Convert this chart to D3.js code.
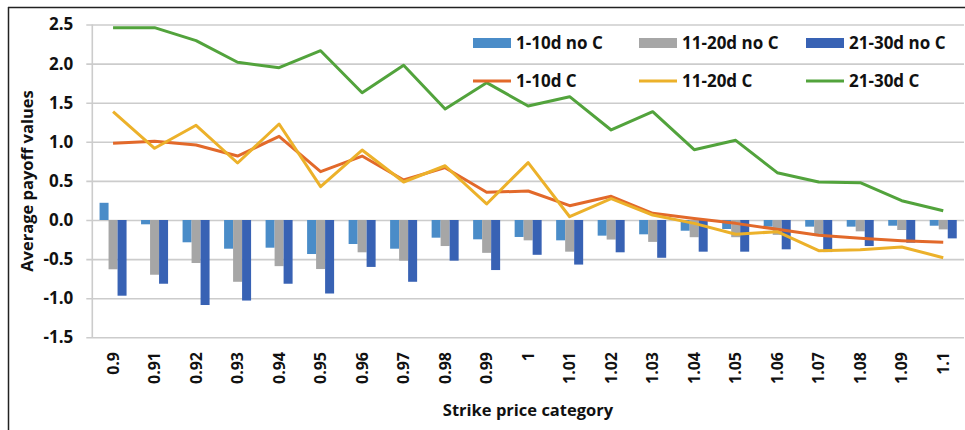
<!DOCTYPE html>
<html>
<head>
<meta charset="utf-8">
<script src="https://cdn.jsdelivr.net/npm/d3@7"></script>
<style>
  body { margin: 0; background: #fff; }
  text { font-family: "Open Sans", sans-serif; font-weight: 700; fill: #111; }
</style>
</head>
<body>
<div id="chart"></div>
<script>
// strike price categories
const categories = ["0.9","0.91","0.92","0.93","0.94","0.95","0.96","0.97","0.98","0.99","1",
  "1.01","1.02","1.03","1.04","1.05","1.06","1.07","1.08","1.09","1.1"];

// bars (no C)
const noC_1_10  = [0.22,-0.055,-0.285,-0.367,-0.354,-0.435,-0.307,-0.367,-0.226,-0.247,-0.217,
  -0.26,-0.2,-0.183,-0.137,-0.115,-0.085,-0.085,-0.085,-0.073,-0.073];
const noC_11_20 = [-0.63,-0.70,-0.55,-0.79,-0.59,-0.627,-0.413,-0.52,-0.333,-0.42,-0.26,
  -0.405,-0.25,-0.28,-0.22,-0.22,-0.19,-0.2,-0.145,-0.128,-0.12];
const noC_21_30 = [-0.968,-0.815,-1.087,-1.03,-0.815,-0.94,-0.6,-0.79,-0.52,-0.64,-0.445,
  -0.57,-0.413,-0.483,-0.405,-0.405,-0.375,-0.41,-0.333,-0.29,-0.235];

// lines (C)
const C_1_10  = [0.98,1.006,0.959,0.818,1.07,0.618,0.818,0.511,0.669,0.354,0.371,
  0.183,0.303,0.085,0.02,-0.043,-0.119,-0.196,-0.234,-0.264,-0.285];
const C_11_20 = [1.385,0.917,1.211,0.729,1.228,0.426,0.895,0.486,0.694,0.205,0.733,
  0.042,0.273,0.064,-0.043,-0.183,-0.149,-0.392,-0.38,-0.345,-0.482];
const C_21_30 = [2.459,2.46,2.293,2.017,1.948,2.165,1.628,1.978,1.419,1.756,1.458,
  1.577,1.151,1.385,0.899,1.019,0.605,0.486,0.477,0.247,0.119];

const yTicks = [-1.5,-1.0,-0.5,0.0,0.5,1.0,1.5,2.0,2.5];

const barSeries = [
  {name: "1-10d no C",  values: noC_1_10,  color: "#4a8cc8"},
  {name: "11-20d no C", values: noC_11_20, color: "#a6a6a6"},
  {name: "21-30d no C", values: noC_21_30, color: "#3862b4"}
];
const lineSeries = [
  {name: "1-10d C",  values: C_1_10,  color: "#e2692a"},
  {name: "11-20d C", values: C_11_20, color: "#ecb12a"},
  {name: "21-30d C", values: C_21_30, color: "#52a33c"}
];

const W = 965, H = 430;
const plotL = 92.3, plotR = 964, plotT = 24.5, plotB = 337.3;

const svg = d3.select("#chart").append("svg")
    .attr("width", W).attr("height", H);

// frame (top and left only)
svg.append("line").attr("x1", 8).attr("x2", W).attr("y1", 7.5).attr("y2", 7.5)
    .attr("stroke", "#222").attr("stroke-width", 1.5);
svg.append("line").attr("x1", 8.5).attr("x2", 8.5).attr("y1", 7).attr("y2", H)
    .attr("stroke", "#222").attr("stroke-width", 1.5);

const x = d3.scaleBand().domain(categories).range([plotL, plotR]);
const bw = x.bandwidth();
const groupW = 27;
const xSub = d3.scaleBand().domain(barSeries.map(d => d.name))
    .range([(bw - groupW) / 2, (bw + groupW) / 2]);
const y = d3.scaleLinear().domain([-1.5, 2.5]).range([plotB, plotT]);

// gridlines + y axis (plain hyphen for negatives, like the original)
const yAxis = d3.axisLeft(y).tickValues(yTicks).tickSize(6)
    .tickFormat(d => d.toFixed(1)).tickPadding(6);
const gy = svg.append("g").attr("transform", `translate(${plotL},0)`).call(yAxis);
gy.select(".domain").remove();
gy.selectAll(".tick line").attr("x1", -6).attr("x2", plotR - plotL)
    .attr("stroke", "#cccccc").attr("stroke-width", 1.6);
gy.selectAll(".tick text").attr("font-size", 17).attr("x", -19).attr("fill", "#111")
    .style("font-family", "'Open Sans', sans-serif").style("font-weight", 700);
svg.append("line").attr("x1", plotL).attr("x2", plotL).attr("y1", plotT).attr("y2", plotB)
    .attr("stroke", "#cccccc").attr("stroke-width", 1.6);

// bars
barSeries.forEach(s => {
  svg.append("g").selectAll("rect")
    .data(s.values.map((v, i) => ({c: categories[i], v})))
    .join("rect")
    .attr("x", d => x(d.c) + xSub(s.name))
    .attr("width", xSub.bandwidth())
    .attr("y", d => y(Math.max(0, d.v)))
    .attr("height", d => Math.abs(y(d.v) - y(0)))
    .attr("fill", s.color);
});

// lines
const line = d3.line()
    .x((d, i) => x(categories[i]) + bw / 2)
    .y(d => y(d));
lineSeries.forEach(s => {
  svg.append("path").datum(s.values)
    .attr("d", line)
    .attr("fill", "none")
    .attr("stroke", s.color)
    .attr("stroke-width", 3)
    .attr("stroke-linejoin", "round");
});

// x tick labels (rotated)
svg.append("g").selectAll("text")
  .data(categories).join("text")
  .attr("transform", d => `translate(${x(d) + bw / 2 + 5.5},352) rotate(-90)`)
  .attr("text-anchor", "end")
  .attr("font-size", 16)
  .text(d => d);

// axis titles
svg.append("text").attr("x", 528).attr("y", 416).attr("text-anchor", "middle")
    .attr("font-size", 16.5).text("Strike price category");
svg.append("text").attr("transform", "translate(33,181) rotate(-90)")
    .attr("text-anchor", "middle").attr("font-size", 16.5).text("Average payoff values");

// legend
const legX = [473, 639, 806];
const legY = [43, 81];
barSeries.forEach((s, i) => {
  svg.append("rect").attr("x", legX[i]).attr("y", legY[0] - 5).attr("width", 38).attr("height", 10)
    .attr("fill", s.color);
  svg.append("text").attr("x", legX[i] + 43).attr("y", legY[0] + 6).attr("font-size", 17).text(s.name);
});
lineSeries.forEach((s, i) => {
  svg.append("line").attr("x1", legX[i]).attr("x2", legX[i] + 38).attr("y1", legY[1]).attr("y2", legY[1])
    .attr("stroke", s.color).attr("stroke-width", 3);
  svg.append("text").attr("x", legX[i] + 43).attr("y", legY[1] + 6).attr("font-size", 17).text(s.name);
});
</script>
</body>
</html>
